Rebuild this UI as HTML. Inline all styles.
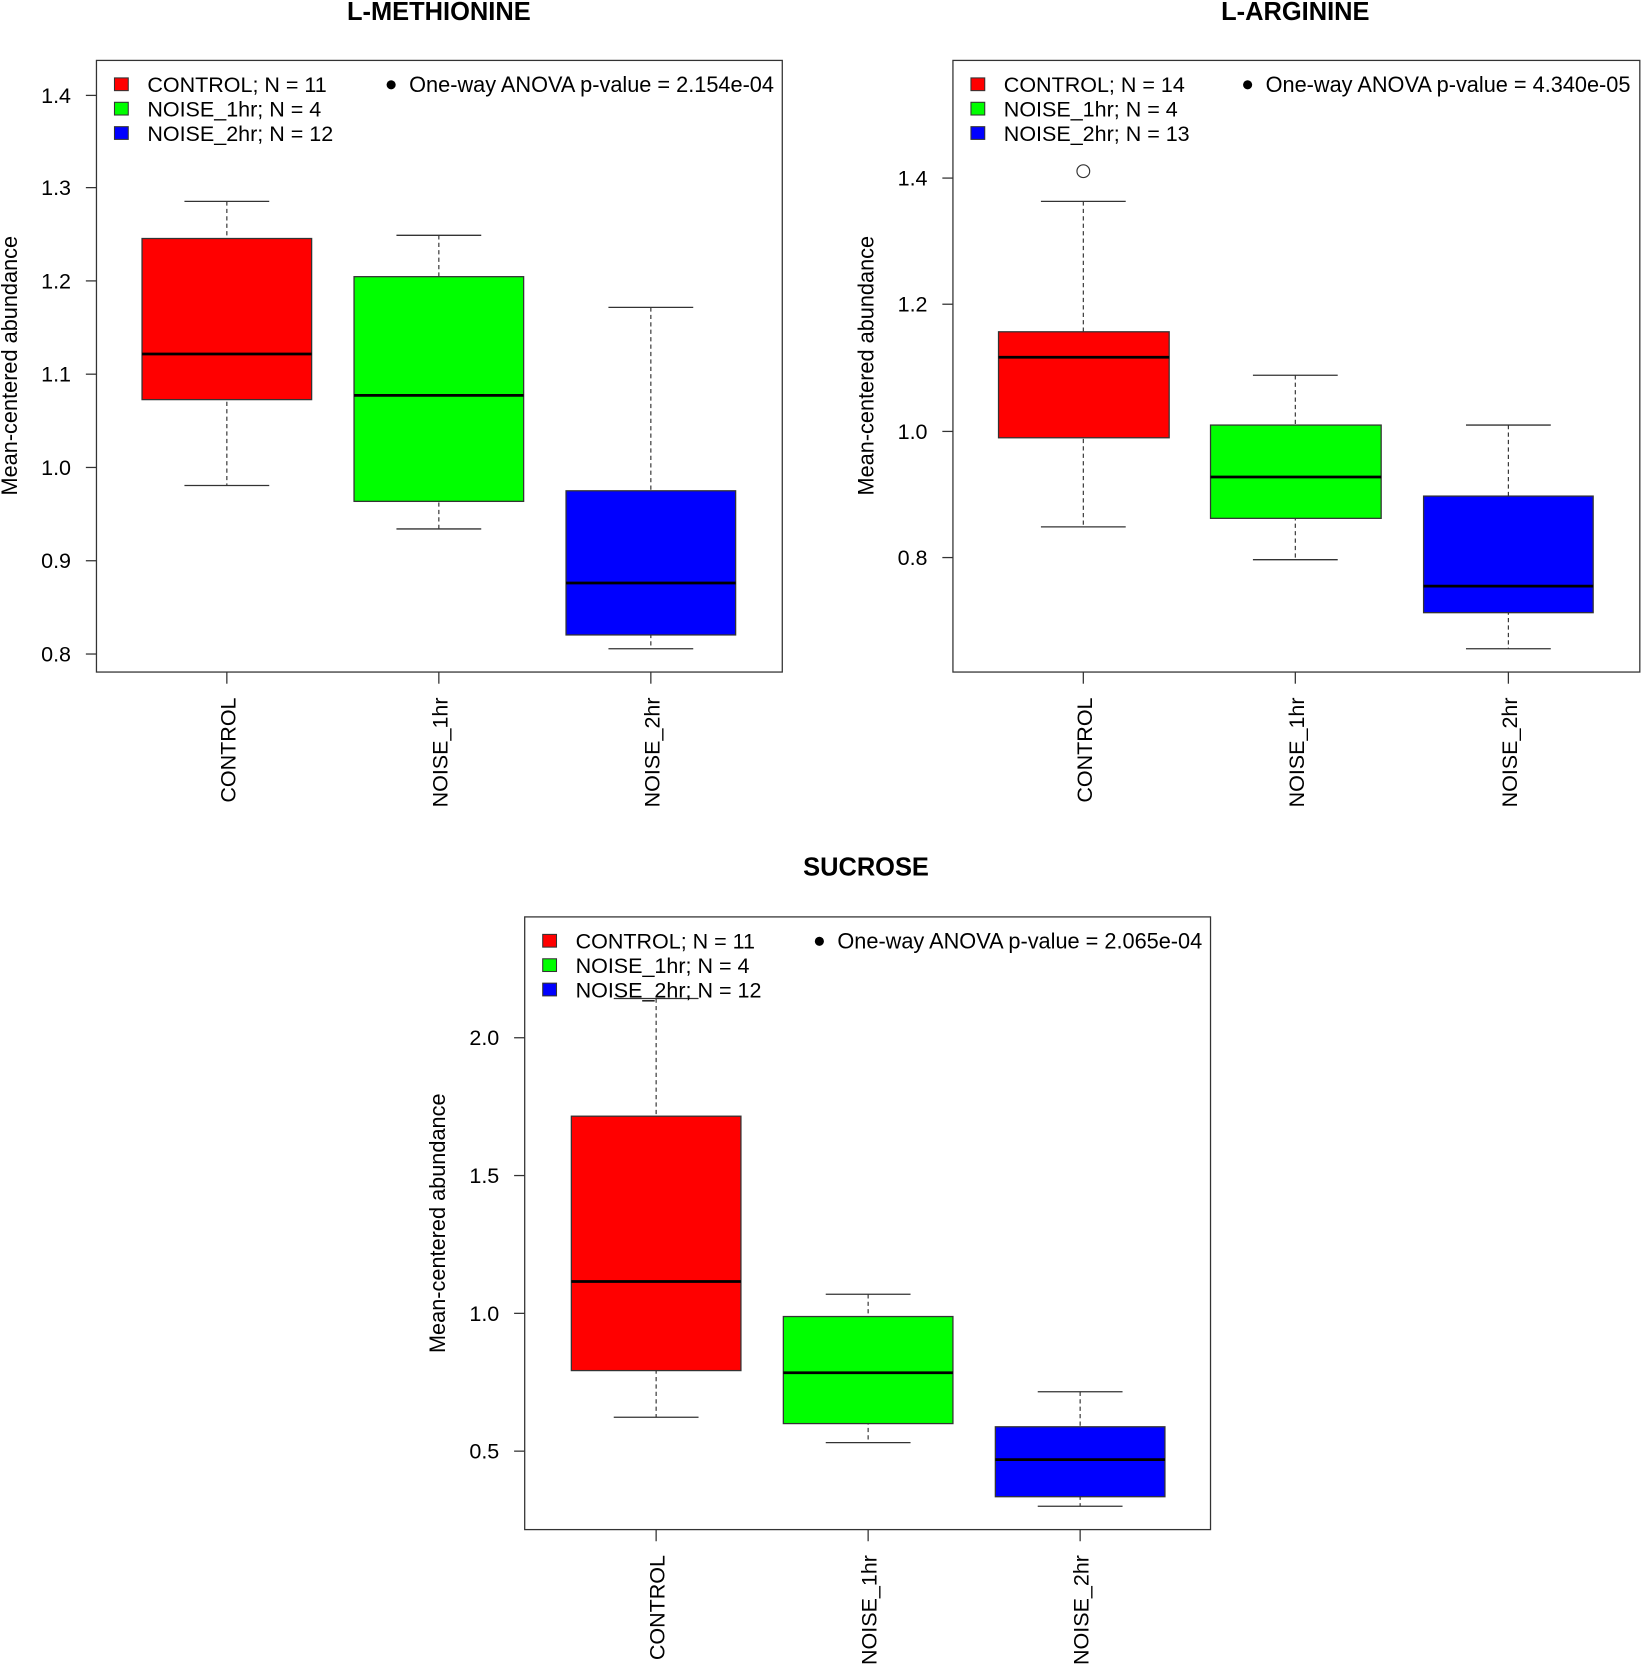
<!DOCTYPE html>
<html><head><meta charset="utf-8"><style>
html,body{margin:0;padding:0;background:#fff;}
svg{display:block;}
text{font-family:"Liberation Sans",Arial,sans-serif;fill:#000;}
.t{font-size:20.3px;}
.ti{font-size:24px;font-weight:bold;}
.fr{fill:none;stroke:#333;stroke-width:1.2;}
.ax{stroke:#333;stroke-width:1.2;}
.wh{stroke:#333;stroke-width:1.1;stroke-dasharray:4,3;}
.cap{stroke:#333;stroke-width:1.2;}
.bx{stroke:#333;stroke-width:1.2;}
.md{stroke:#000;stroke-width:2.6;}
.lg{stroke:#333;stroke-width:1;}
</style></head><body>
<svg width="1643" height="1664" viewBox="0 0 1550 1569.8" preserveAspectRatio="none" xmlns="http://www.w3.org/2000/svg">
<rect width="1550" height="1570" fill="#fff"/>

<!-- ===== Panel 1: L-METHIONINE ===== -->
<text class="ti" x="414" y="19" text-anchor="middle">L-METHIONINE</text>
<rect class="fr" x="91" y="57" width="647" height="577"/>
<g class="ax">
<line x1="81" y1="90" x2="91" y2="90"/><line x1="81" y1="177" x2="91" y2="177"/><line x1="81" y1="265" x2="91" y2="265"/><line x1="81" y1="353" x2="91" y2="353"/><line x1="81" y1="441" x2="91" y2="441"/><line x1="81" y1="529" x2="91" y2="529"/><line x1="81" y1="617" x2="91" y2="617"/>
<line x1="214" y1="634" x2="214" y2="645"/><line x1="414" y1="634" x2="414" y2="645"/><line x1="614" y1="634" x2="614" y2="645"/>
</g>
<g class="t" text-anchor="end">
<text x="67" y="97">1.4</text><text x="67" y="184">1.3</text><text x="67" y="272">1.2</text><text x="67" y="360">1.1</text><text x="67" y="448">1.0</text><text x="67" y="536">0.9</text><text x="67" y="624">0.8</text>
</g>
<text class="t" transform="translate(16,345) rotate(-90)" text-anchor="middle" style="font-size:20.5px">Mean-centered abundance</text>
<g class="t" text-anchor="end">
<text transform="translate(222,658) rotate(-90)">CONTROL</text>
<text transform="translate(422,658) rotate(-90)">NOISE_1hr</text>
<text transform="translate(622,658) rotate(-90)">NOISE_2hr</text>
</g>
<line class="wh" x1="214" y1="190" x2="214" y2="458"/><line class="cap" x1="174" y1="190" x2="254" y2="190"/><line class="cap" x1="174" y1="458" x2="254" y2="458"/>
<rect class="bx" x="134" y="225" width="160" height="152" fill="#ff0000"/><line class="md" x1="134" y1="334" x2="294" y2="334"/>
<line class="wh" x1="414" y1="222" x2="414" y2="499"/><line class="cap" x1="374" y1="222" x2="454" y2="222"/><line class="cap" x1="374" y1="499" x2="454" y2="499"/>
<rect class="bx" x="334" y="261" width="160" height="212" fill="#00ff00"/><line class="md" x1="334" y1="373" x2="494" y2="373"/>
<line class="wh" x1="614" y1="290" x2="614" y2="612"/><line class="cap" x1="574" y1="290" x2="654" y2="290"/><line class="cap" x1="574" y1="612" x2="654" y2="612"/>
<rect class="bx" x="534" y="463" width="160" height="136" fill="#0000ff"/><line class="md" x1="534" y1="550" x2="694" y2="550"/>
<rect class="lg" x="108" y="73.5" width="13" height="12" fill="#ff0000"/>
<rect class="lg" x="108" y="96.5" width="13" height="12" fill="#00ff00"/>
<rect class="lg" x="108" y="119.5" width="13" height="12" fill="#0000ff"/>
<text class="t" x="139" y="87">CONTROL; N = 11</text>
<text class="t" x="139" y="110">NOISE_1hr; N = 4</text>
<text class="t" x="139" y="133">NOISE_2hr; N = 12</text>
<circle cx="369" cy="80" r="4.3" fill="#000"/>
<text class="t" x="386" y="87" style="font-size:20.5px">One-way ANOVA p-value = 2.154e-04</text>

<!-- ===== Panel 2: L-ARGININE ===== -->
<text class="ti" x="1222" y="19" text-anchor="middle">L-ARGININE</text>
<rect class="fr" x="899" y="57" width="648" height="577"/>
<g class="ax">
<line x1="889" y1="168" x2="899" y2="168"/><line x1="889" y1="287" x2="899" y2="287"/><line x1="889" y1="407" x2="899" y2="407"/><line x1="889" y1="526" x2="899" y2="526"/>
<line x1="1022" y1="634" x2="1022" y2="645"/><line x1="1222" y1="634" x2="1222" y2="645"/><line x1="1423" y1="634" x2="1423" y2="645"/>
</g>
<g class="t" text-anchor="end">
<text x="875" y="175">1.4</text><text x="875" y="294">1.2</text><text x="875" y="414">1.0</text><text x="875" y="533">0.8</text>
</g>
<text class="t" transform="translate(824,345) rotate(-90)" text-anchor="middle" style="font-size:20.5px">Mean-centered abundance</text>
<g class="t" text-anchor="end">
<text transform="translate(1030,658) rotate(-90)">CONTROL</text>
<text transform="translate(1230,658) rotate(-90)">NOISE_1hr</text>
<text transform="translate(1431,658) rotate(-90)">NOISE_2hr</text>
</g>
<circle cx="1022" cy="161.5" r="6" fill="none" stroke="#333" stroke-width="1.1"/>
<line class="wh" x1="1022" y1="190" x2="1022" y2="497"/><line class="cap" x1="982" y1="190" x2="1062" y2="190"/><line class="cap" x1="982" y1="497" x2="1062" y2="497"/>
<rect class="bx" x="942" y="313" width="161" height="100" fill="#ff0000"/><line class="md" x1="942" y1="337" x2="1103" y2="337"/>
<line class="wh" x1="1222" y1="354" x2="1222" y2="528"/><line class="cap" x1="1182" y1="354" x2="1262" y2="354"/><line class="cap" x1="1182" y1="528" x2="1262" y2="528"/>
<rect class="bx" x="1142" y="401" width="161" height="88" fill="#00ff00"/><line class="md" x1="1142" y1="450" x2="1303" y2="450"/>
<line class="wh" x1="1423" y1="401" x2="1423" y2="612"/><line class="cap" x1="1383" y1="401" x2="1463" y2="401"/><line class="cap" x1="1383" y1="612" x2="1463" y2="612"/>
<rect class="bx" x="1343" y="468" width="160" height="110" fill="#0000ff"/><line class="md" x1="1343" y1="553" x2="1503" y2="553"/>
<rect class="lg" x="916" y="73.5" width="13" height="12" fill="#ff0000"/>
<rect class="lg" x="916" y="96.5" width="13" height="12" fill="#00ff00"/>
<rect class="lg" x="916" y="119.5" width="13" height="12" fill="#0000ff"/>
<text class="t" x="947" y="87">CONTROL; N = 14</text>
<text class="t" x="947" y="110">NOISE_1hr; N = 4</text>
<text class="t" x="947" y="133">NOISE_2hr; N = 13</text>
<circle cx="1177" cy="80" r="4.3" fill="#000"/>
<text class="t" x="1194" y="87" style="font-size:20.5px">One-way ANOVA p-value = 4.340e-05</text>

<!-- ===== Panel 3: SUCROSE ===== -->
<text class="ti" x="817" y="826" text-anchor="middle">SUCROSE</text>
<rect class="fr" x="495" y="865" width="647" height="578"/>
<g class="ax">
<line x1="485" y1="979" x2="495" y2="979"/><line x1="485" y1="1109" x2="495" y2="1109"/><line x1="485" y1="1239" x2="495" y2="1239"/><line x1="485" y1="1369" x2="495" y2="1369"/>
<line x1="619" y1="1443" x2="619" y2="1454"/><line x1="819" y1="1443" x2="819" y2="1454"/><line x1="1019" y1="1443" x2="1019" y2="1454"/>
</g>
<g class="t" text-anchor="end">
<text x="471" y="986">2.0</text><text x="471" y="1116">1.5</text><text x="471" y="1246">1.0</text><text x="471" y="1376">0.5</text>
</g>
<text class="t" transform="translate(420,1154) rotate(-90)" text-anchor="middle" style="font-size:20.5px">Mean-centered abundance</text>
<g class="t" text-anchor="end">
<text transform="translate(627,1467) rotate(-90)">CONTROL</text>
<text transform="translate(827,1467) rotate(-90)">NOISE_1hr</text>
<text transform="translate(1027,1467) rotate(-90)">NOISE_2hr</text>
</g>
<line class="wh" x1="619" y1="942" x2="619" y2="1337"/><line class="cap" x1="579" y1="942" x2="659" y2="942"/><line class="cap" x1="579" y1="1337" x2="659" y2="1337"/>
<rect class="bx" x="539" y="1053" width="160" height="240" fill="#ff0000"/><line class="md" x1="539" y1="1209" x2="699" y2="1209"/>
<line class="wh" x1="819" y1="1221" x2="819" y2="1361"/><line class="cap" x1="779" y1="1221" x2="859" y2="1221"/><line class="cap" x1="779" y1="1361" x2="859" y2="1361"/>
<rect class="bx" x="739" y="1242" width="160" height="101" fill="#00ff00"/><line class="md" x1="739" y1="1295" x2="899" y2="1295"/>
<line class="wh" x1="1019" y1="1313" x2="1019" y2="1421"/><line class="cap" x1="979" y1="1313" x2="1059" y2="1313"/><line class="cap" x1="979" y1="1421" x2="1059" y2="1421"/>
<rect class="bx" x="939" y="1346" width="160" height="66" fill="#0000ff"/><line class="md" x1="939" y1="1377" x2="1099" y2="1377"/>
<rect class="lg" x="512" y="881.5" width="13" height="12" fill="#ff0000"/>
<rect class="lg" x="512" y="904.5" width="13" height="12" fill="#00ff00"/>
<rect class="lg" x="512" y="927.5" width="13" height="12" fill="#0000ff"/>
<text class="t" x="543" y="895">CONTROL; N = 11</text>
<text class="t" x="543" y="918">NOISE_1hr; N = 4</text>
<text class="t" x="543" y="941">NOISE_2hr; N = 12</text>
<circle cx="773" cy="888" r="4.3" fill="#000"/>
<text class="t" x="790" y="895" style="font-size:20.5px">One-way ANOVA p-value = 2.065e-04</text>
</svg>
</body></html>
